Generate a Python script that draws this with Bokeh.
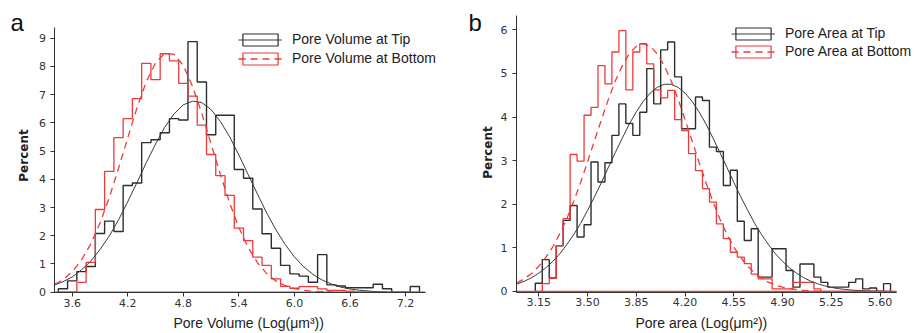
import math
from bokeh.plotting import figure
from bokeh.models import (Range1d, FixedTicker, Legend, LegendItem, Label,
                          NumeralTickFormatter)
from bokeh.layouts import row
from bokeh.embed import file_html
from bokeh.resources import INLINE

NAN = float("nan")

# ---------------- data: panel a (pore volume, bin width 0.1) ----------------
vol_edges = [3.45, 3.55, 3.65, 3.75, 3.85, 3.95, 4.05, 4.15, 4.25, 4.35,
             4.45, 4.55, 4.65, 4.75, 4.85, 4.95, 5.05, 5.15, 5.25, 5.35,
             5.45, 5.55, 5.65, 5.75, 5.85, 5.95, 6.05, 6.15, 6.25, 6.35,
             6.45, 6.55, 6.65, 6.75, 6.85, 6.95, 7.05, 7.15, 7.25, 7.35]
vol_tip_pct = [0.12, 0.40, 0.73, 0.91, 2.08, 2.52, 2.15, 3.78, 3.87, 5.30,
               5.40, 5.65, 6.15, 6.10, 8.88, 7.45, 5.58, 6.27, 6.27, 4.35,
               4.04, 2.95, 2.07, 1.56, 0.95, 0.65, 0.57, 0.35, 1.33, 0.26,
               0.22, 0.16, 0.16, 0.16, 0.28, 0.12, 0.00, 0.00, 0.20]
vol_bottom_pct = [0.00, 0.00, 0.35, 1.06, 2.93, 4.28, 5.48, 6.15, 6.86, 8.11,
                  7.53, 8.45, 8.20, 7.40, 6.95, 5.92, 4.88, 4.13, 3.43, 2.27,
                  1.83, 1.24, 0.95, 0.47, 0.21, 0.14, 0.20, 0.20, 0.12, 0.06,
                  0.06, 0.04, 0.00, 0.00, 0.00, 0.00, 0.00, 0.00, 0.00]
vol_fit_tip_x = [3.414, 3.5, 3.6, 3.7, 3.8, 3.9, 4.0, 4.1, 4.2, 4.3, 4.4, 4.5,
                 4.6, 4.7, 4.8, 4.9, 5.0, 5.1, 5.2, 5.3, 5.4, 5.5, 5.6, 5.7,
                 5.8, 5.9, 6.0, 6.1, 6.2, 6.3, 6.4, 6.5, 6.6, 6.7, 6.8, 6.9, 7.0]
vol_fit_tip = [0.26, 0.37, 0.54, 0.79, 1.10, 1.51, 1.99, 2.56, 3.21, 3.89, 4.59, 5.25,
               5.85, 6.32, 6.64, 6.77, 6.72, 6.47, 6.05, 5.51, 4.86, 4.17, 3.48, 2.81,
               2.21, 1.69, 1.25, 0.90, 0.63, 0.43, 0.29, 0.18, 0.115, 0.07, 0.04, 0.02, 0.01]
vol_fit_bottom_x = [3.414, 3.5, 3.6, 3.7, 3.8, 3.9, 4.0, 4.1, 4.2, 4.3, 4.4, 4.5,
                    4.6, 4.7, 4.8, 4.9, 5.0, 5.1, 5.2, 5.3, 5.4, 5.5, 5.6, 5.7,
                    5.8, 5.9, 6.0, 6.1, 6.2, 6.3, 6.4]
vol_fit_bottom = [0.29, 0.44, 0.73, 1.14, 1.71, 2.45, 3.35, 4.39, 5.47, 6.54, 7.46, 8.13,
                  8.47, 8.43, 8.03, 7.29, 6.33, 5.25, 4.17, 3.16, 2.29, 1.58, 1.05, 0.66,
                  0.40, 0.23, 0.13, 0.066, 0.034, 0.016, 0.008]
vol_ticks = [3.6, 4.2, 4.8, 5.4, 6.0, 6.6, 7.2]
vol_yticks = [0, 1, 2, 3, 4, 5, 6, 7, 8, 9]

# ---------------- data: panel b (pore area, bin width 0.05) ----------------
area_edges = [3.125, 3.175, 3.225, 3.275, 3.325, 3.375, 3.425, 3.475, 3.525, 3.575,
              3.625, 3.675, 3.725, 3.775, 3.825, 3.875, 3.925, 3.975, 4.025, 4.075,
              4.125, 4.175, 4.225, 4.275, 4.325, 4.375, 4.425, 4.475, 4.525, 4.575,
              4.625, 4.675, 4.725, 4.775, 4.825, 4.875, 4.925, 4.975, 5.025, 5.075,
              5.125, 5.175, 5.225, 5.275, 5.325, 5.375, 5.425, 5.475, 5.525, 5.575,
              5.625, 5.675]
area_tip_pct = [0.19, 0.73, 0.31, 1.05, 1.63, 1.97, 1.25, 1.53, 2.97, 2.51,
                2.95, 3.58, 4.30, 3.85, 3.58, 4.11, 5.11, 4.30, 5.54, 5.72,
                4.92, 3.73, 3.73, 4.46, 4.38, 3.31, 3.21, 2.43, 2.78, 1.61,
                1.17, 1.44, 0.33, 0.33, 0.98, 0.98, 0.48, 0.10, 0.63, 0.63,
                0.33, 0.21, 0.10, 0.10, 0.10, 0.21, 0.29, 0.06, 0.08, 0.00,
                0.18]
area_bottom_pct = [0.00, 0.18, 0.30, 1.05, 1.67, 3.14, 2.99, 4.04, 4.22, 5.18,
                   4.76, 5.49, 5.98, 4.62, 5.49, 5.68, 5.22, 4.62, 4.44, 4.61,
                   3.94, 3.69, 3.16, 2.77, 2.36, 2.05, 1.55, 1.21, 0.90, 0.79,
                   0.64, 0.40, 0.29, 0.29, 0.06, 0.06, 0.06, 0.21, 0.21, 0.21,
                   0.06, 0.00, 0.00, 0.00, 0.00, 0.00, 0.00, 0.00, 0.00, 0.00,
                   0.00]
area_fit_tip_x = [2.99, 3.00, 3.05, 3.10, 3.15, 3.20, 3.25, 3.30, 3.35, 3.40,
                  3.45, 3.50, 3.55, 3.60, 3.65, 3.70, 3.75, 3.80, 3.85, 3.90,
                  3.95, 4.00, 4.05, 4.10, 4.15, 4.20, 4.25, 4.30, 4.35, 4.40,
                  4.45, 4.50, 4.55, 4.60, 4.65, 4.70, 4.75, 4.80, 4.85, 4.90,
                  4.95, 5.00, 5.05, 5.10, 5.15, 5.20, 5.25, 5.30, 5.35, 5.40,
                  5.45, 5.50, 5.55, 5.60, 5.65, 5.70]
area_fit_tip = [0.17, 0.18, 0.24, 0.32, 0.42, 0.54, 0.69, 0.86, 1.07, 1.30,
                1.56, 1.86, 2.17, 2.50, 2.85, 3.19, 3.52, 3.84, 4.12, 4.36,
                4.55, 4.68, 4.75, 4.75, 4.68, 4.55, 4.36, 4.12, 3.84, 3.52,
                3.19, 2.85, 2.50, 2.17, 1.86, 1.56, 1.30, 1.07, 0.86, 0.69,
                0.54, 0.42, 0.32, 0.24, 0.18, 0.13, 0.093, 0.066, 0.047, 0.032,
                0.022, 0.015, 0.010, 0.006, 0.004, 0.002]
area_fit_bottom_x = [2.99, 3.00, 3.05, 3.10, 3.15, 3.20, 3.25, 3.30, 3.35, 3.40,
                     3.45, 3.50, 3.55, 3.60, 3.65, 3.70, 3.75, 3.80, 3.85, 3.90,
                     3.95, 4.00, 4.05, 4.10, 4.15, 4.20, 4.25, 4.30, 4.35, 4.40,
                     4.45, 4.50, 4.55, 4.60, 4.65, 4.70, 4.75, 4.80, 4.85, 4.90,
                     4.95, 5.00, 5.05, 5.10, 5.15, 5.20]
area_fit_bottom = [0.20, 0.21, 0.30, 0.42, 0.58, 0.78, 1.02, 1.32, 1.66, 2.06,
                   2.50, 2.97, 3.46, 3.94, 4.41, 4.83, 5.18, 5.45, 5.62, 5.68,
                   5.62, 5.45, 5.18, 4.83, 4.41, 3.94, 3.46, 2.97, 2.50, 2.06,
                   1.66, 1.32, 1.02, 0.78, 0.58, 0.42, 0.30, 0.21, 0.146, 0.098,
                   0.065, 0.042, 0.027, 0.016, 0.010, 0.006]
area_ticks = [3.15, 3.50, 3.85, 4.20, 4.55, 4.90, 5.25, 5.60]
area_yticks = [0, 1, 2, 3, 4, 5, 6]

BLACK = "#2e2e2e"
RED = "#ee3a3a"
AXIS = "#333333"
TICK_FONT = "DejaVu Sans"
TEXT_FONT = "Liberation Sans"
H = 333


def step_xy(edges, pct):
    xs = [edges[0]] + list(edges)
    ys = [0] + list(pct) + [0]
    return xs, ys


def panel(width, xview, yview, xaxis_span, yaxis_span, xticks, xfmt, yticks,
          edges, tip, bottom, fx_tip, fy_tip, fx_bot, fy_bot, labels,
          legend_loc, legend_spacing, letter, letter_xy, xtitle, xtitle_xy, ytitle_xy):
    p = figure(width=width, height=H, x_range=Range1d(*xview), y_range=Range1d(*yview),
               output_backend="svg", toolbar_location=None, min_border=0,
               min_border_left=0, min_border_right=0, min_border_top=0,
               min_border_bottom=0)
    p.grid.visible = False
    p.outline_line_color = None
    p.background_fill_color = "white"
    p.border_fill_color = "white"

    for ax in (p.xaxis[0], p.yaxis[0]):
        ax.axis_line_color = AXIS
        ax.axis_line_width = 1
        ax.major_tick_line_color = AXIS
        ax.minor_tick_line_color = None
        ax.major_tick_out = 4
        ax.major_tick_in = 0
        ax.major_label_text_font = TICK_FONT
        ax.major_label_text_font_size = "11px"
        ax.major_label_text_color = "#333333"
    xa, ya = p.xaxis[0], p.yaxis[0]
    xa.fixed_location = yaxis_span[0]
    xa.bounds = xaxis_span
    xa.ticker = FixedTicker(ticks=xticks)
    xa.formatter = NumeralTickFormatter(format=xfmt)
    xa.major_label_standoff = 2
    ya.fixed_location = xaxis_span[0]
    ya.bounds = yaxis_span
    ya.ticker = FixedTicker(ticks=yticks)
    ya.formatter = NumeralTickFormatter(format="0")
    ya.major_label_standoff = 5

    tx, ty = step_xy(edges, tip)
    bx, by = step_xy(edges, bottom)
    p.step(tx, ty, mode="after", line_color=BLACK, line_width=1.4)
    p.step(bx, by, mode="after", line_color=RED, line_width=1.3)
    r_fit_tip = p.line(fx_tip, fy_tip, line_color="#3a3a3a", line_width=1.0)
    r_fit_bot = p.line(fx_bot, fy_bot, line_color=RED, line_width=1.3, line_dash="7 5")
    # red zero baseline of the histogram outline, along the x axis extent
    p.segment(x0=[xaxis_span[0]], y0=[0], x1=[xaxis_span[1]], y1=[0],
              line_color=RED, line_width=1.3)

    box_tip = p.quad(left=[NAN], right=[NAN], top=[NAN], bottom=[NAN], fill_alpha=0,
                     line_color=BLACK, line_width=1.2)
    box_bot = p.quad(left=[NAN], right=[NAN], top=[NAN], bottom=[NAN], fill_alpha=0,
                     line_color=RED, line_width=1.2)
    legend = Legend(items=[LegendItem(label=labels[0], renderers=[box_tip, r_fit_tip]),
                           LegendItem(label=labels[1], renderers=[box_bot, r_fit_bot])],
                    location=legend_loc, orientation="vertical",
                    glyph_width=44, glyph_height=15, label_height=16,
                    label_standoff=10, spacing=legend_spacing, padding=0, margin=0,
                    border_line_color=None, background_fill_alpha=0,
                    label_text_font=TEXT_FONT, label_text_font_size="14px",
                    label_text_color="#222222")
    p.add_layout(legend, "center")

    p.add_layout(Label(x=letter_xy[0], y=letter_xy[1], x_units="screen", y_units="screen",
                       text=letter, text_font=TEXT_FONT, text_font_size="24px",
                       text_color="#111111", text_baseline="alphabetic"))
    p.add_layout(Label(x=xtitle_xy[0], y=xtitle_xy[1], x_units="screen", y_units="screen",
                       text=xtitle, text_font=TEXT_FONT, text_font_size="14px",
                       text_color="#222222", text_baseline="alphabetic"))
    p.add_layout(Label(x=ytitle_xy[0], y=ytitle_xy[1], x_units="screen", y_units="screen",
                       text="Percent", text_font=TICK_FONT, text_font_style="bold",
                       text_font_size="12px", text_color="#222222", angle=math.pi / 2,
                       text_align="center", text_baseline="middle"))
    return p


W1 = 462
W2 = 457

pa = panel(W1, (2.8256, 7.8147), (-1.4635, 10.337), (3.414, 7.41), (-0.02, 9.39),
           vol_ticks, "0.0", vol_yticks, vol_edges, vol_tip_pct, vol_bottom_pct,
           vol_fit_tip_x, vol_fit_tip, vol_fit_bottom_x, vol_fit_bottom,
           ["Pore Volume at Tip", "Pore Volume at Bottom"], (238, 267), 3,
           "a", (10, H - 22), "Pore Volume (Log(\u03bcm\u00b3))", (173, 11), (23, H - 155))

pb = panel(W2, (2.6023, 5.883), (-0.963, 6.671), (2.99, 5.72), (-0.015, 6.33),
           area_ticks, "0.00", area_yticks, area_edges, area_tip_pct, area_bottom_pct,
           area_fit_tip_x, area_fit_tip, area_fit_bottom_x, area_fit_bottom,
           ["Pore Area at Tip", "Pore Area at Bottom"], (731 - W1, 274), 2,
           "b", (468 - W1, H - 22), "Pore area (Log(\u03bcm\u00b2))", (635 - W1, 11),
           (487 - W1, H - 152))

layout = row(pa, pb)
open("out.html", "w").write(file_html(layout, INLINE))
